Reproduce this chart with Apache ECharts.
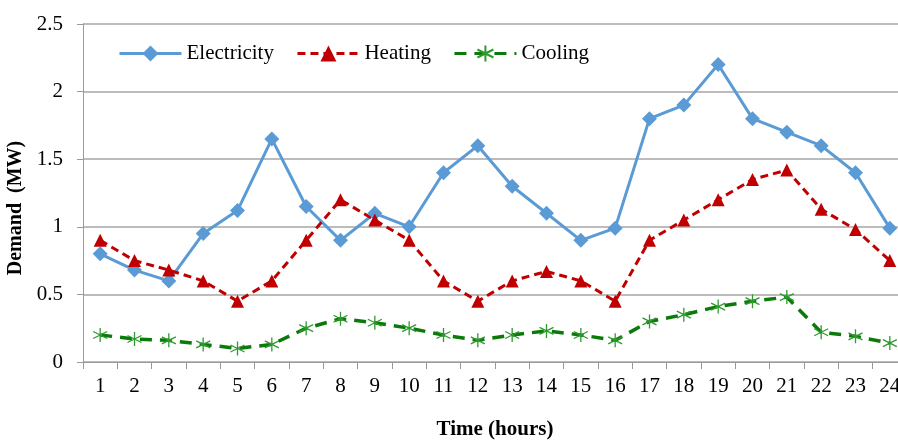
<!DOCTYPE html>
<html><head><meta charset="utf-8">
<script src="https://cdn.jsdelivr.net/npm/echarts@6/dist/echarts.min.js"></script>
<style>html,body{margin:0;padding:0;background:#fff}#c{width:898px;height:441px}</style>
</head><body><div id="c"></div>
<script>
var hours = ['1','2','3','4','5','6','7','8','9','10','11','12','13','14','15','16','17','18','19','20','21','22','23','24'];
var electricity = [0.8,0.68,0.6,0.95,1.12,1.65,1.15,0.9,1.1,1.0,1.4,1.6,1.3,1.1,0.9,0.99,1.8,1.9,2.2,1.8,1.7,1.6,1.4,0.99];
var heating = [0.9,0.75,0.68,0.6,0.45,0.6,0.9,1.2,1.05,0.9,0.6,0.45,0.6,0.67,0.6,0.45,0.9,1.05,1.2,1.35,1.42,1.13,0.98,0.75];
var cooling = [0.2,0.17,0.16,0.13,0.1,0.13,0.25,0.32,0.29,0.25,0.2,0.16,0.2,0.23,0.2,0.16,0.3,0.35,0.41,0.45,0.48,0.22,0.19,0.14];

var font = 'Liberation Serif';
var star = 'path://M0,-10L0,10M-8.66,-5L8.66,5M-8.66,5L8.66,-5';
var chart = echarts.init(document.getElementById('c'));
chart.setOption({
  animation: false,
  textStyle: {fontFamily: font},
  legend: {
    top: 38, left: 113, itemGap: 22, itemWidth: 62, itemHeight: 20,
    textStyle: {fontFamily: font, fontSize: 21, color: '#000'},
    lineStyle: {width: 3},
    data: [
      {name: 'Electricity'},
      {name: 'Heating'},
      {name: 'Cooling'}
    ]
  },
  grid: {left: 83, top: 24, width: 824, height: 338, containLabel: false, outerBoundsMode: 'none'},
  xAxis: {
    type: 'category', data: hours, boundaryGap: true,
    name: 'Time (hours)', nameLocation: 'middle', nameGap: 57,
    nameTextStyle: {fontFamily: font, fontSize: 21, fontWeight: 'bold', color: '#000'},
    axisLine: {lineStyle: {color: '#9a9a9a', width: 1}},
    axisTick: {show: true, interval: 0, length: 7, lineStyle: {color: '#9a9a9a'}},
    axisLabel: {fontFamily: font, fontSize: 21, color: '#000', margin: 14, interval: 0}
  },
  yAxis: {
    type: 'value', min: 0, max: 2.5, interval: 0.5,
    name: 'Demand  (MW)', nameLocation: 'middle', nameGap: 44,
    nameTextStyle: {fontFamily: font, fontSize: 20, fontWeight: 'bold', color: '#000', padding: [0,30,0,0]},
    axisLine: {show: true, lineStyle: {color: '#9a9a9a', width: 1}},
    axisTick: {show: true, length: 6, lineStyle: {color: '#9a9a9a'}},
    axisLabel: {fontFamily: font, fontSize: 21, color: '#000', margin: 20},
    splitLine: {lineStyle: {color: '#a6a6a6', width: 1.5}}
  },
  series: [
    {name: 'Electricity', type: 'line', data: electricity, symbol: 'diamond', symbolSize: 15,
     lineStyle: {color: '#5B9BD5', width: 3}, itemStyle: {color: '#5B9BD5'}},
    {name: 'Heating', type: 'line', data: heating, symbol: 'triangle', symbolSize: 13,
     lineStyle: {color: '#C00000', width: 3, type: [8,5]}, itemStyle: {color: '#C00000'}},
    {name: 'Cooling', type: 'line', data: cooling, symbol: star, symbolSize: 14,
     lineStyle: {color: '#0B7A0B', width: 3.5, type: [12,8]},
     itemStyle: {color: 'none', borderColor: '#2E9A2E', borderWidth: 1.3}}
  ]
});
</script></body></html>
